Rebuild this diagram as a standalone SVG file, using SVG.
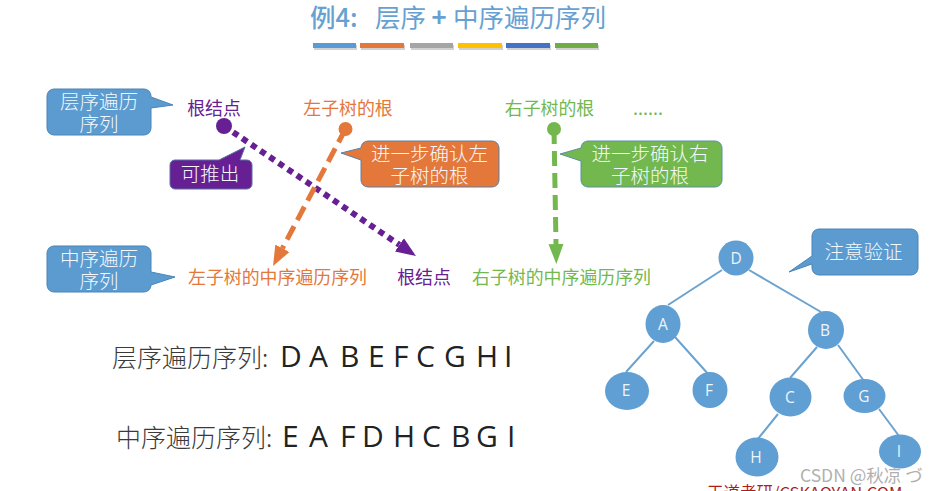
<svg xmlns="http://www.w3.org/2000/svg" width="933" height="491" viewBox="0 0 933 491">
<style>
text{font-family:"Noto Sans CJK SC","Liberation Sans",sans-serif}
.c{text-anchor:middle}
.w{fill:#f4f8fc;font-size:19.5px;font-weight:300}
.lab{font-size:17.9px}
.blue{fill:#5b9bd0;stroke:#4a85b8;stroke-width:1}
.or{fill:#e4773a;stroke:#5a7fa5;stroke-width:1}
.gr{fill:#72b84e;stroke:#5a8fa5;stroke-width:1}
.pu{fill:#672093;stroke:#5a6fa5;stroke-width:1}
.n{fill:#5f9fd3}
.nt{fill:#eef5fb;font-size:15.500px;text-anchor:middle;font-family:"Open Sans",sans-serif}
.e{stroke:#6ba3d0;stroke-width:2;fill:none}
.seq{font-family:"Open Sans",sans-serif;font-size:30px;fill:#222}
.sl{font-size:25px;fill:#3a3a3a;font-weight:300}
.sh{fill:#000;opacity:.18}
.t{font-size:25.500px;fill:#67a1d1}
</style>
<defs>
<marker id="ap" markerUnits="userSpaceOnUse" markerWidth="22" markerHeight="20" refX="0" refY="10" orient="auto"><path d="M0,2 L20,10 L0,18 Z" fill="#672093"/></marker>
<marker id="ao" markerUnits="userSpaceOnUse" markerWidth="22" markerHeight="20" refX="0" refY="10" orient="auto"><path d="M0,2 L20,10 L0,18 Z" fill="#e4773a"/></marker>
<marker id="ag" markerUnits="userSpaceOnUse" markerWidth="22" markerHeight="20" refX="0" refY="10" orient="auto"><path d="M0,2.500 L20,10 L0,17.500 Z" fill="#72b84e"/></marker>
</defs>
<rect width="933" height="491" fill="#fff"/>

<g id="title">
<text class="t" x="310" y="27" font-weight="500">例4:</text>
<text class="t" x="375" y="27">层序</text>
<text class="t c" x="439" y="27" font-weight="700">+</text>
<text class="t" x="453" y="27">中序遍历序列</text>
<g>
<rect class="sh" x="314" y="45" width="43" height="5"/>
<rect class="sh" x="361" y="45" width="44" height="5"/>
<rect class="sh" x="411" y="45" width="43" height="5"/>
<rect class="sh" x="459" y="45" width="44" height="5"/>
<rect class="sh" x="507" y="45" width="44" height="5"/>
<rect class="sh" x="556" y="45" width="43" height="5"/>
<rect x="313" y="43" width="43" height="5" fill="#5b9bd5"/>
<rect x="360" y="43" width="44" height="5" fill="#e4773a"/>
<rect x="410" y="43" width="43" height="5" fill="#a5a5a5"/>
<rect x="458" y="43" width="44" height="5" fill="#ffc000"/>
<rect x="506" y="43" width="44" height="5" fill="#4472c4"/>
<rect x="555" y="43" width="43" height="5" fill="#70ad47"/>
</g>
</g>

<g id="connectors">
<line x1="224" y1="126" x2="399.400" y2="244.800" stroke="#672093" stroke-width="6" stroke-dasharray="6 5" marker-end="url(#ap)"/>
<line x1="345.500" y1="129" x2="282.400" y2="248.300" stroke="#e4773a" stroke-width="5" stroke-dasharray="15 7" marker-end="url(#ao)"/>
<line x1="554" y1="129" x2="556" y2="244" stroke="#72b84e" stroke-width="5" stroke-dasharray="15 7" marker-end="url(#ag)"/>
<g id="tree-edges">
<path class="e" d="M722,270L668,305M749,270L821,312M654,341L626,372M675,337L709,375M817,347L790,378M838,345L864,381M778,414L757,440M879,409L899,436"/>
</g>
</g>

<g id="dots">
<circle cx="224" cy="126" r="8" fill="#672093"/>
<circle cx="345.500" cy="129" r="7" fill="#e4773a"/>
<circle cx="554" cy="129" r="7" fill="#72b84e"/>
</g>

<g id="callout-level">
<path class="blue" d="M54,89H144a7,7 0 0 1 7,7V97L173,105L151,108V128a7,7 0 0 1 -7,7H54a7,7 0 0 1 -7,-7V96a7,7 0 0 1 7,-7Z"/>
<text class="w c" x="99" y="109">层序遍历</text>
<text class="w c" x="99" y="131">序列</text>
</g>
<g id="callout-in">
<path class="blue" d="M54,246H144a7,7 0 0 1 7,7V272L175,277L151,285a7,7 0 0 1 -7,7H54a7,7 0 0 1 -7,-7V253a7,7 0 0 1 7,-7Z"/>
<text class="w c" x="99" y="266">中序遍历</text>
<text class="w c" x="99" y="288">序列</text>
</g>
<g id="callout-infer">
<path class="pu" d="M176,160H219L245,147L240,160H247a5,5 0 0 1 5,5V184a5,5 0 0 1 -5,5H175a5,5 0 0 1 -5,-5V165a5,5 0 0 1 5,-5Z"/>
<text class="w c" x="210" y="181">可推出</text>
</g>
<g id="callout-left">
<path class="or" d="M368,141H492a7,7 0 0 1 7,7V180a7,7 0 0 1 -7,7H368a7,7 0 0 1 -7,-7V160L341,153L361,148a7,7 0 0 1 7,-7Z"/>
<text class="w c" x="429.500" y="161">进一步确认左</text>
<text class="w c" x="429.500" y="183">子树的根</text>
</g>
<g id="callout-right">
<path class="gr" d="M588,141H715a7,7 0 0 1 7,7V180a7,7 0 0 1 -7,7H588a7,7 0 0 1 -7,-7V161L560,154L581,148a7,7 0 0 1 7,-7Z"/>
<text class="w c" x="650" y="161">进一步确认右</text>
<text class="w c" x="650" y="183">子树的根</text>
</g>
<g id="callout-verify">
<path class="blue" d="M819,229H911a7,7 0 0 1 7,7V268a7,7 0 0 1 -7,7H819a7,7 0 0 1 -7,-7V264L789,272L812,256V236a7,7 0 0 1 7,-7Z"/>
<text class="w c" x="863.500" y="259">注意验证</text>
</g>

<g id="labels">
<text class="lab c" x="214" y="115" fill="#672093">根结点</text>
<text class="lab c" x="348" y="115" fill="#e4773a">左子树的根</text>
<text class="lab c" x="549.500" y="115" fill="#72b84e">右子树的根</text>
<text class="lab c" x="648" y="115" fill="#72b84e">......</text>
<text class="lab c" x="277.500" y="284" fill="#e4773a">左子树的中序遍历序列</text>
<text class="lab c" x="424" y="284" fill="#672093">根结点</text>
<text class="lab c" x="561.500" y="284" fill="#72b84e">右子树的中序遍历序列</text>
</g>

<g id="node-D"><ellipse class="n" cx="736" cy="258" rx="17.500" ry="17.500"/><text class="nt" x="736" y="264">D</text></g>
<g id="node-A"><ellipse class="n" cx="663" cy="324" rx="17.500" ry="19"/><text class="nt" x="663" y="330">A</text></g>
<g id="node-B"><ellipse class="n" cx="826" cy="330" rx="18" ry="19"/><text class="nt" x="825" y="336">B</text></g>
<g id="node-E"><ellipse class="n" cx="627" cy="391" rx="22" ry="19"/><text class="nt" x="626" y="396">E</text></g>
<g id="node-F"><ellipse class="n" cx="710" cy="390" rx="17.500" ry="18"/><text class="nt" x="709" y="396">F</text></g>
<g id="node-C"><ellipse class="n" cx="790.500" cy="397" rx="21" ry="19.500"/><text class="nt" x="790" y="403">C</text></g>
<g id="node-G"><ellipse class="n" cx="864.500" cy="396" rx="21" ry="17"/><text class="nt" x="864" y="402">G</text></g>
<g id="node-H"><ellipse class="n" cx="757" cy="457" rx="21.500" ry="19.500"/><text class="nt" x="756" y="463">H</text></g>
<g id="node-I"><ellipse class="n" cx="900" cy="451.500" rx="21" ry="17"/><text class="nt" x="899" y="457">I</text></g>

<g id="sequences">
<text class="sl" x="112" y="367">层序遍历序列:</text>
<text class="seq" x="280 309 340 368 393 416 444 476 504" y="367">DABEFCGHI</text>
<text class="sl" x="116" y="447">中序遍历序列:</text>
<text class="seq" x="282 309 340 362 393 422 451 476 507" y="447">EAFDHCBGI</text>
</g>

<g id="footer">
<text x="707" y="499" font-size="16.500" fill="#b01c1c">王道考研/CSKAOYAN.COM</text>
<text x="800" y="482" font-size="17.500" fill="#b0b0b0">CSDN @秋凉 づ</text>
</g>
</svg>
